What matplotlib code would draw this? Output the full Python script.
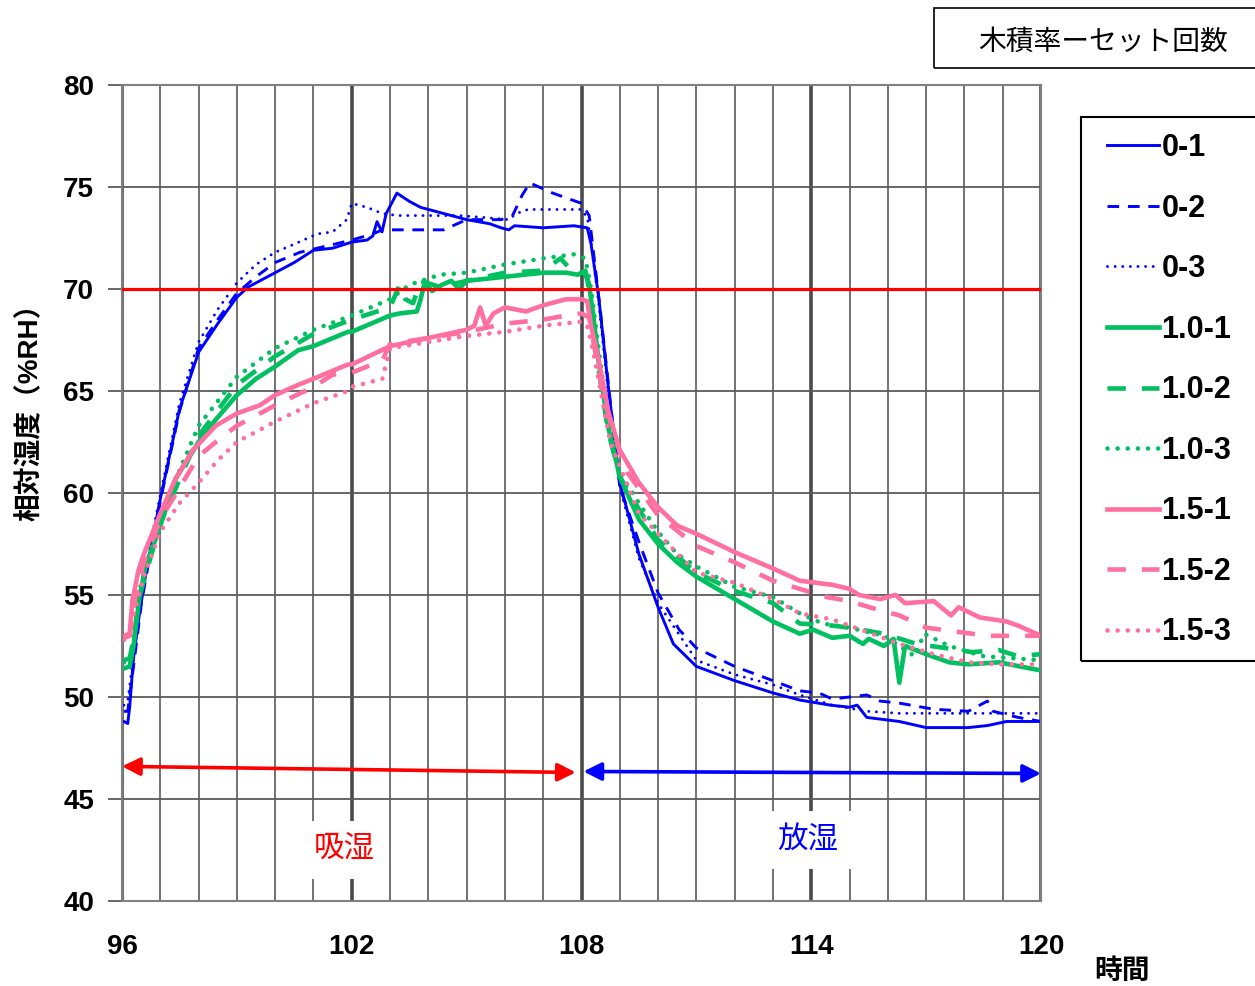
import matplotlib
matplotlib.use("Agg")
import matplotlib.pyplot as plt
from matplotlib.patches import Rectangle

plt.rcParams["font.family"] = ["Liberation Sans", "Noto Sans CJK JP", "DejaVu Sans"]

# data (time in hours, relative humidity in %RH)
t_0_1 = [96.05, 96.15, 96.2, 96.3, 96.45, 96.6, 96.75, 97.0, 97.5, 98.0, 98.5, 99.0, 99.3, 99.6,
         100.0, 100.5, 101.0, 101.5, 102.0, 102.4, 102.55, 102.66, 102.79, 102.9, 103.18, 103.5,
         103.8, 104.4, 105.0, 105.6, 105.9, 106.1, 106.25, 107.0, 107.8, 108.15, 108.25, 108.45,
         108.7, 109.0, 109.5, 110.0, 110.4, 111.0, 112.0, 113.0, 113.7, 114.5, 115.0, 115.2,
         115.45, 116.3, 117.0, 118.1, 118.6, 119.1, 120.0]
rh_0_1 = [48.8, 48.7, 49.5, 51.9, 54.0, 55.8, 57.3, 59.7, 64.1, 66.9, 68.3, 69.6, 70.1, 70.4,
          70.8, 71.3, 71.9, 72.0, 72.3, 72.4, 72.6, 73.3, 72.8, 73.7, 74.7, 74.3,
          74.0, 73.7, 73.4, 73.2, 73.0, 72.9, 73.1, 73.0, 73.1, 73.0, 72.2, 69.6,
          65.2, 60.5, 57.0, 54.4, 52.6, 51.5, 50.8, 50.2, 49.85, 49.6, 49.5, 49.6,
          49.0, 48.8, 48.5, 48.5, 48.6, 48.8, 48.8]

t_0_2 = [96.05, 96.15, 96.3, 96.5, 96.75, 97.0, 97.5, 98.0, 98.5, 99.0, 99.5, 100.0, 100.65,
         101.1, 102.0, 102.55, 102.8, 103.1, 104.4, 105.0, 105.9, 106.2, 106.45, 106.65, 107.25,
         108.0, 108.2, 108.3, 108.5, 108.75, 109.0, 109.5, 110.0, 110.55, 111.0, 112.0, 113.0,
         113.7, 114.2, 114.55, 115.45, 115.8, 116.3, 117.2, 118.1, 118.6, 118.75, 119.4, 120.0]
rh_0_2 = [49.3, 49.3, 51.5, 54.5, 57.2, 59.6, 64.0, 67.1, 68.5, 69.8, 70.6, 71.3, 71.8,
          72.0, 72.4, 72.7, 72.9, 72.9, 72.9, 73.4, 73.4, 73.6, 74.6, 75.2, 74.7,
          74.2, 73.6, 72.0, 68.8, 64.5, 60.3, 57.6, 55.1, 53.3, 52.4, 51.5, 50.8,
          50.3, 50.2, 49.9, 50.1, 49.8, 49.7, 49.4, 49.3, 49.8, 49.3, 49.0, 48.8]

t_0_3 = [96.05, 96.15, 96.3, 96.5, 96.75, 97.0, 97.5, 98.0, 98.5, 99.0, 99.5, 100.0, 100.5,
         101.1, 101.5, 101.87, 102.0, 102.4, 102.8, 103.2, 104.0, 104.8, 105.5, 106.1, 106.3,
         106.6, 107.5, 108.0, 108.15, 108.25, 108.45, 108.7, 109.0, 109.5, 110.0, 111.0, 112.0,
         113.0, 113.7, 114.55, 115.45, 116.3, 117.2, 118.1, 119.0, 120.0]
rh_0_3 = [49.6, 49.8, 52.0, 55.0, 57.6, 59.9, 64.4, 67.4, 69.0, 70.3, 71.2, 71.8, 72.2,
          72.7, 72.8, 73.4, 74.2, 74.0, 73.7, 73.6, 73.6, 73.6, 73.5, 73.4, 73.7,
          73.9, 73.9, 73.9, 73.5, 72.3, 69.3, 64.9, 60.3, 56.8, 54.6, 51.8, 51.1,
          50.6, 50.1, 49.6, 49.3, 49.2, 49.2, 49.2, 49.2, 49.2]

t_1_0_1 = [96.05, 96.2, 96.3, 96.45, 96.6, 97.0, 97.4, 98.0, 98.45, 99.0, 99.5, 100.0, 100.6,
           101.0, 101.9, 102.0, 103.0, 103.25, 103.7, 103.8, 103.9, 104.1, 104.35, 104.6, 104.8,
           105.0, 106.0, 107.0, 107.6, 107.9, 108.1, 108.2, 108.3, 108.45, 108.7, 109.0, 109.5,
           110.0, 110.5, 111.0, 112.0, 113.0, 113.7, 114.05, 114.55, 115.0, 115.35, 115.5, 115.9,
           116.15, 116.3, 116.45, 117.0, 117.6, 118.1, 118.9, 120.0]
rh_1_0_1 = [51.4, 51.5, 52.5, 54.8, 56.3, 58.4, 60.7, 62.5, 63.6, 64.8, 65.6, 66.2, 67.0,
            67.2, 67.9, 67.9, 68.7, 68.8, 68.9, 69.5, 70.3, 69.9, 70.2, 70.4, 70.0,
            70.4, 70.6, 70.8, 70.8, 70.7, 70.9, 70.2, 68.8, 66.4, 63.2, 60.8, 58.7,
            57.5, 56.6, 55.9, 54.8, 53.7, 53.1, 53.3, 52.9, 53.0, 52.6, 52.85, 52.5,
            52.85, 50.7, 52.5, 52.1, 51.7, 51.6, 51.7, 51.3]

t_1_0_2 = [96.05, 96.2, 96.3, 96.45, 97.0, 98.0, 99.0, 100.0, 101.0, 102.0, 103.0, 103.25,
           103.4, 103.6, 103.8, 104.3, 105.0, 106.0, 107.0, 107.45, 107.65, 108.0, 108.15,
           108.3, 108.45, 108.7, 109.0, 109.5, 110.0, 111.0, 112.0, 113.0, 113.7, 114.55,
           115.0, 115.9, 116.75, 117.5, 118.2, 118.9, 119.4, 120.0]
rh_1_0_2 = [51.8, 51.9, 52.8, 54.9, 58.5, 62.8, 65.3, 66.7, 67.8, 68.5, 69.1, 70.2,
            69.5, 69.3, 70.4, 70.1, 70.4, 70.8, 70.9, 71.5, 71.1, 71.0, 70.5,
            68.5, 66.0, 63.0, 60.8, 59.2, 57.7, 56.1, 55.2, 54.6, 53.6, 53.5,
            53.4, 53.1, 52.6, 52.4, 52.2, 52.3, 52.0, 52.1]

t_1_0_3 = [96.05, 96.2, 96.3, 96.45, 97.0, 98.0, 99.0, 100.0, 101.0, 102.0, 103.0, 103.5,
           104.3, 105.0, 106.0, 107.0, 107.8, 108.1, 108.25, 108.45, 108.7, 109.0, 109.5,
           110.0, 110.5, 111.0, 112.0, 113.0, 113.7, 114.3, 115.0, 115.9, 116.7, 116.95,
           117.6, 118.5, 120.0]
rh_1_0_3 = [51.7, 51.8, 52.9, 55.2, 58.9, 63.3, 65.7, 67.1, 68.0, 68.7, 69.5, 70.2,
            70.7, 70.8, 71.2, 71.5, 71.7, 71.5, 70.0, 67.0, 63.5, 61.0, 59.5,
            58.1, 57.0, 56.4, 55.4, 54.9, 54.1, 53.6, 53.4, 53.0, 52.0, 53.1,
            52.5, 52.0, 51.8]

t_1_5_1 = [96.05, 96.2, 96.27, 96.43, 96.55, 97.0, 97.4, 97.85, 98.45, 99.0, 99.6, 100.0,
           100.6, 101.0, 101.9, 102.0, 103.0, 104.0, 105.0, 105.2, 105.35, 105.5, 105.7, 106.0,
           106.55, 107.0, 107.6, 108.0, 108.15, 108.25, 108.45, 108.7, 109.0, 109.5, 110.0,
           110.5, 111.0, 112.0, 113.0, 113.7, 114.55, 115.0, 115.25, 115.8, 116.2, 116.45,
           117.2, 117.65, 117.85, 118.4, 119.1, 119.4, 120.0]
rh_1_5_1 = [53.0, 53.1, 54.7, 56.2, 56.9, 59.0, 60.7, 62.1, 63.3, 63.9, 64.3, 64.8,
            65.3, 65.6, 66.3, 66.3, 67.2, 67.6, 68.0, 68.2, 69.1, 68.2, 68.8, 69.1,
            68.9, 69.2, 69.5, 69.5, 69.4, 68.2, 66.5, 64.0, 62.1, 60.5, 59.3,
            58.4, 58.0, 57.1, 56.3, 55.7, 55.5, 55.3, 55.0, 54.8, 55.0, 54.6,
            54.7, 54.0, 54.4, 53.9, 53.7, 53.5, 53.0]

t_1_5_2 = [96.05, 96.2, 96.3, 96.55, 97.0, 98.0, 98.45, 99.0, 100.0, 101.0, 101.5, 102.0,
           102.8, 103.0, 104.0, 105.0, 106.0, 107.0, 107.6, 108.0, 108.2, 108.35, 108.5,
           108.7, 109.0, 109.2, 110.0, 111.0, 112.0, 113.0, 113.7, 114.4, 115.0, 115.7,
           116.3, 117.0, 117.8, 118.6, 119.3, 120.0]
rh_1_5_2 = [52.9, 53.0, 54.5, 56.5, 58.7, 61.8, 62.5, 63.3, 64.3, 65.2, 65.8, 65.9,
            66.5, 67.3, 67.6, 67.9, 68.3, 68.5, 68.7, 68.8, 68.6, 67.0, 65.5,
            63.8, 62.0, 61.0, 58.9, 57.4, 56.6, 55.7, 55.3, 54.9, 54.7, 54.3,
            54.0, 53.4, 53.2, 53.0, 53.0, 53.0]

t_1_5_3 = [96.05, 96.2, 96.3, 96.55, 97.0, 97.5, 98.0, 98.5, 99.0, 99.5, 100.0, 101.0,
           101.9, 102.0, 102.8, 103.0, 104.0, 105.0, 106.0, 107.0, 108.0, 108.15, 108.3,
           108.5, 108.75, 109.0, 109.5, 110.0, 111.0, 112.0, 113.0, 113.7, 114.55, 115.45,
           116.3, 117.2, 118.1, 118.9, 120.0]
rh_1_5_3 = [52.8, 52.9, 54.0, 55.8, 58.1, 59.5, 60.5, 61.6, 62.5, 63.0, 63.5, 64.4,
            65.0, 65.2, 65.6, 67.1, 67.4, 67.7, 67.9, 68.2, 68.4, 68.2, 67.0,
            65.0, 62.5, 61.3, 59.0, 58.0, 56.1, 55.6, 54.8, 54.1, 53.8, 53.2,
            52.6, 52.1, 51.7, 51.6, 51.6]

threshold_rh = 70
x_ticks = [96, 102, 108, 114, 120]
y_ticks = [40, 45, 50, 55, 60, 65, 70, 75, 80]

BLUE = "#0000FF"
GREEN = "#00C060"
PINK = "#FF6F9F"
GRID = "#5a5a5a"

W, H = 1255, 986
fig = plt.figure(figsize=(W / 100, H / 100), dpi=100)
ax = fig.add_axes([122 / W, 1 - 901 / H, (1041 - 122) / W, (901 - 85) / H])

dash_b = (0, (4, 3))
dot_b = (0, (0.01, 2.6))
dash_g = (0, (4, 3.5))
dot_g = (0, (0.01, 2.2))

series = [
    (t_0_1, rh_0_1, "0-1", BLUE, "-", 2.1),
    (t_0_2, rh_0_2, "0-2", BLUE, dash_b, 2.1),
    (t_0_3, rh_0_3, "0-3", BLUE, dot_b, 2.1),
    (t_1_0_1, rh_1_0_1, "1.0-1", GREEN, "-", 3.3),
    (t_1_0_2, rh_1_0_2, "1.0-2", GREEN, dash_g, 3.3),
    (t_1_0_3, rh_1_0_3, "1.0-3", GREEN, dot_g, 3.3),
    (t_1_5_1, rh_1_5_1, "1.5-1", PINK, "-", 3.3),
    (t_1_5_2, rh_1_5_2, "1.5-2", PINK, dash_g, 3.3),
    (t_1_5_3, rh_1_5_3, "1.5-3", PINK, dot_g, 3.3),
]
for t, rh, lab, col, ls, lw in series:
    ax.plot(t, rh, color=col, ls=ls, lw=lw, label=lab,
            dash_capstyle="round" if isinstance(ls, tuple) and ls[1][0] < 0.1 else "butt",
            solid_joinstyle="round")

ax.axhline(threshold_rh, color="#FF0000", lw=2.3, zorder=3)

ax.set_xlim(96, 120)
ax.set_ylim(40, 80)
ax.set_xticks(x_ticks)
ax.set_xticks(range(96, 121), minor=True)
ax.set_yticks(y_ticks)
ax.set_axisbelow(True)
ax.grid(which="minor", axis="x", color=GRID, lw=1.2)
ax.grid(which="major", axis="x", color="#4a4a4a", lw=2.6)
ax.grid(which="major", axis="y", color=GRID, lw=1.3)
ax.tick_params(axis="x", which="both", length=0, pad=24, labelsize=20)
ax.tick_params(axis="y", length=10, width=1.3, color=GRID, pad=10, labelsize=20)
for lbl in ax.get_xticklabels() + ax.get_yticklabels():
    lbl.set_fontweight("bold")
for sp in ax.spines.values():
    sp.set_color("#808080")
    sp.set_linewidth(1.5)

ax.set_ylabel("相対湿度（%RH）", fontsize=20, fontweight="bold")
ax.yaxis.set_label_coords((44 - 122) / 919, (901 - 405) / 816)
fig.text(1122 / W, 1 - 972 / H, "時間", fontsize=20, fontweight="bold",
         ha="center", va="center")

# period arrows and labels
arrow_kw = dict(arrowstyle="<|-|>,head_length=0.6,head_width=0.3", lw=2.6,
                mutation_scale=18, shrinkA=0, shrinkB=0)
ax.annotate("", xy=(107.85, 46.3), xytext=(96.0, 46.6),
            arrowprops=dict(color="#FF0000", **arrow_kw))
ax.annotate("", xy=(120.0, 46.25), xytext=(108.05, 46.35),
            arrowprops=dict(color="#0000FF", **arrow_kw))
box = dict(boxstyle="square,pad=0.45", fc="white", ec="none")
ax.text(101.8, 42.5, "吸湿", color="#FF0000", fontsize=22, ha="center", va="center", bbox=box)
ax.text(113.9, 43.0, "放湿", color="#0000FF", fontsize=22, ha="center", va="center", bbox=box)

# legend with its own frame
fig.patches.append(Rectangle((1081 / W, 1 - 661 / H), (1265 - 1081) / W, (661 - 117) / H,
                             transform=fig.transFigure, fill=False, ec="black", lw=1.5))
handles, labels = ax.get_legend_handles_labels()
fig.legend(handles, labels, loc="upper left", bbox_to_anchor=(1107 / W, 1 - 133 / H),
           frameon=False, prop={"weight": "bold", "size": 22},
           handlelength=1.7, handletextpad=0.08, labelspacing=1.0,
           borderpad=0, borderaxespad=0)

# title box
fig.patches.append(Rectangle((934 / W, 1 - 68 / H), (1265 - 934) / W, 60 / H,
                             transform=fig.transFigure, fill=False, ec="black", lw=1.2))
fig.text(1103 / W, 1 - 43 / H, "木積率ーセット回数", fontsize=20, ha="center", va="center")

fig.savefig("out.png", dpi=100)
